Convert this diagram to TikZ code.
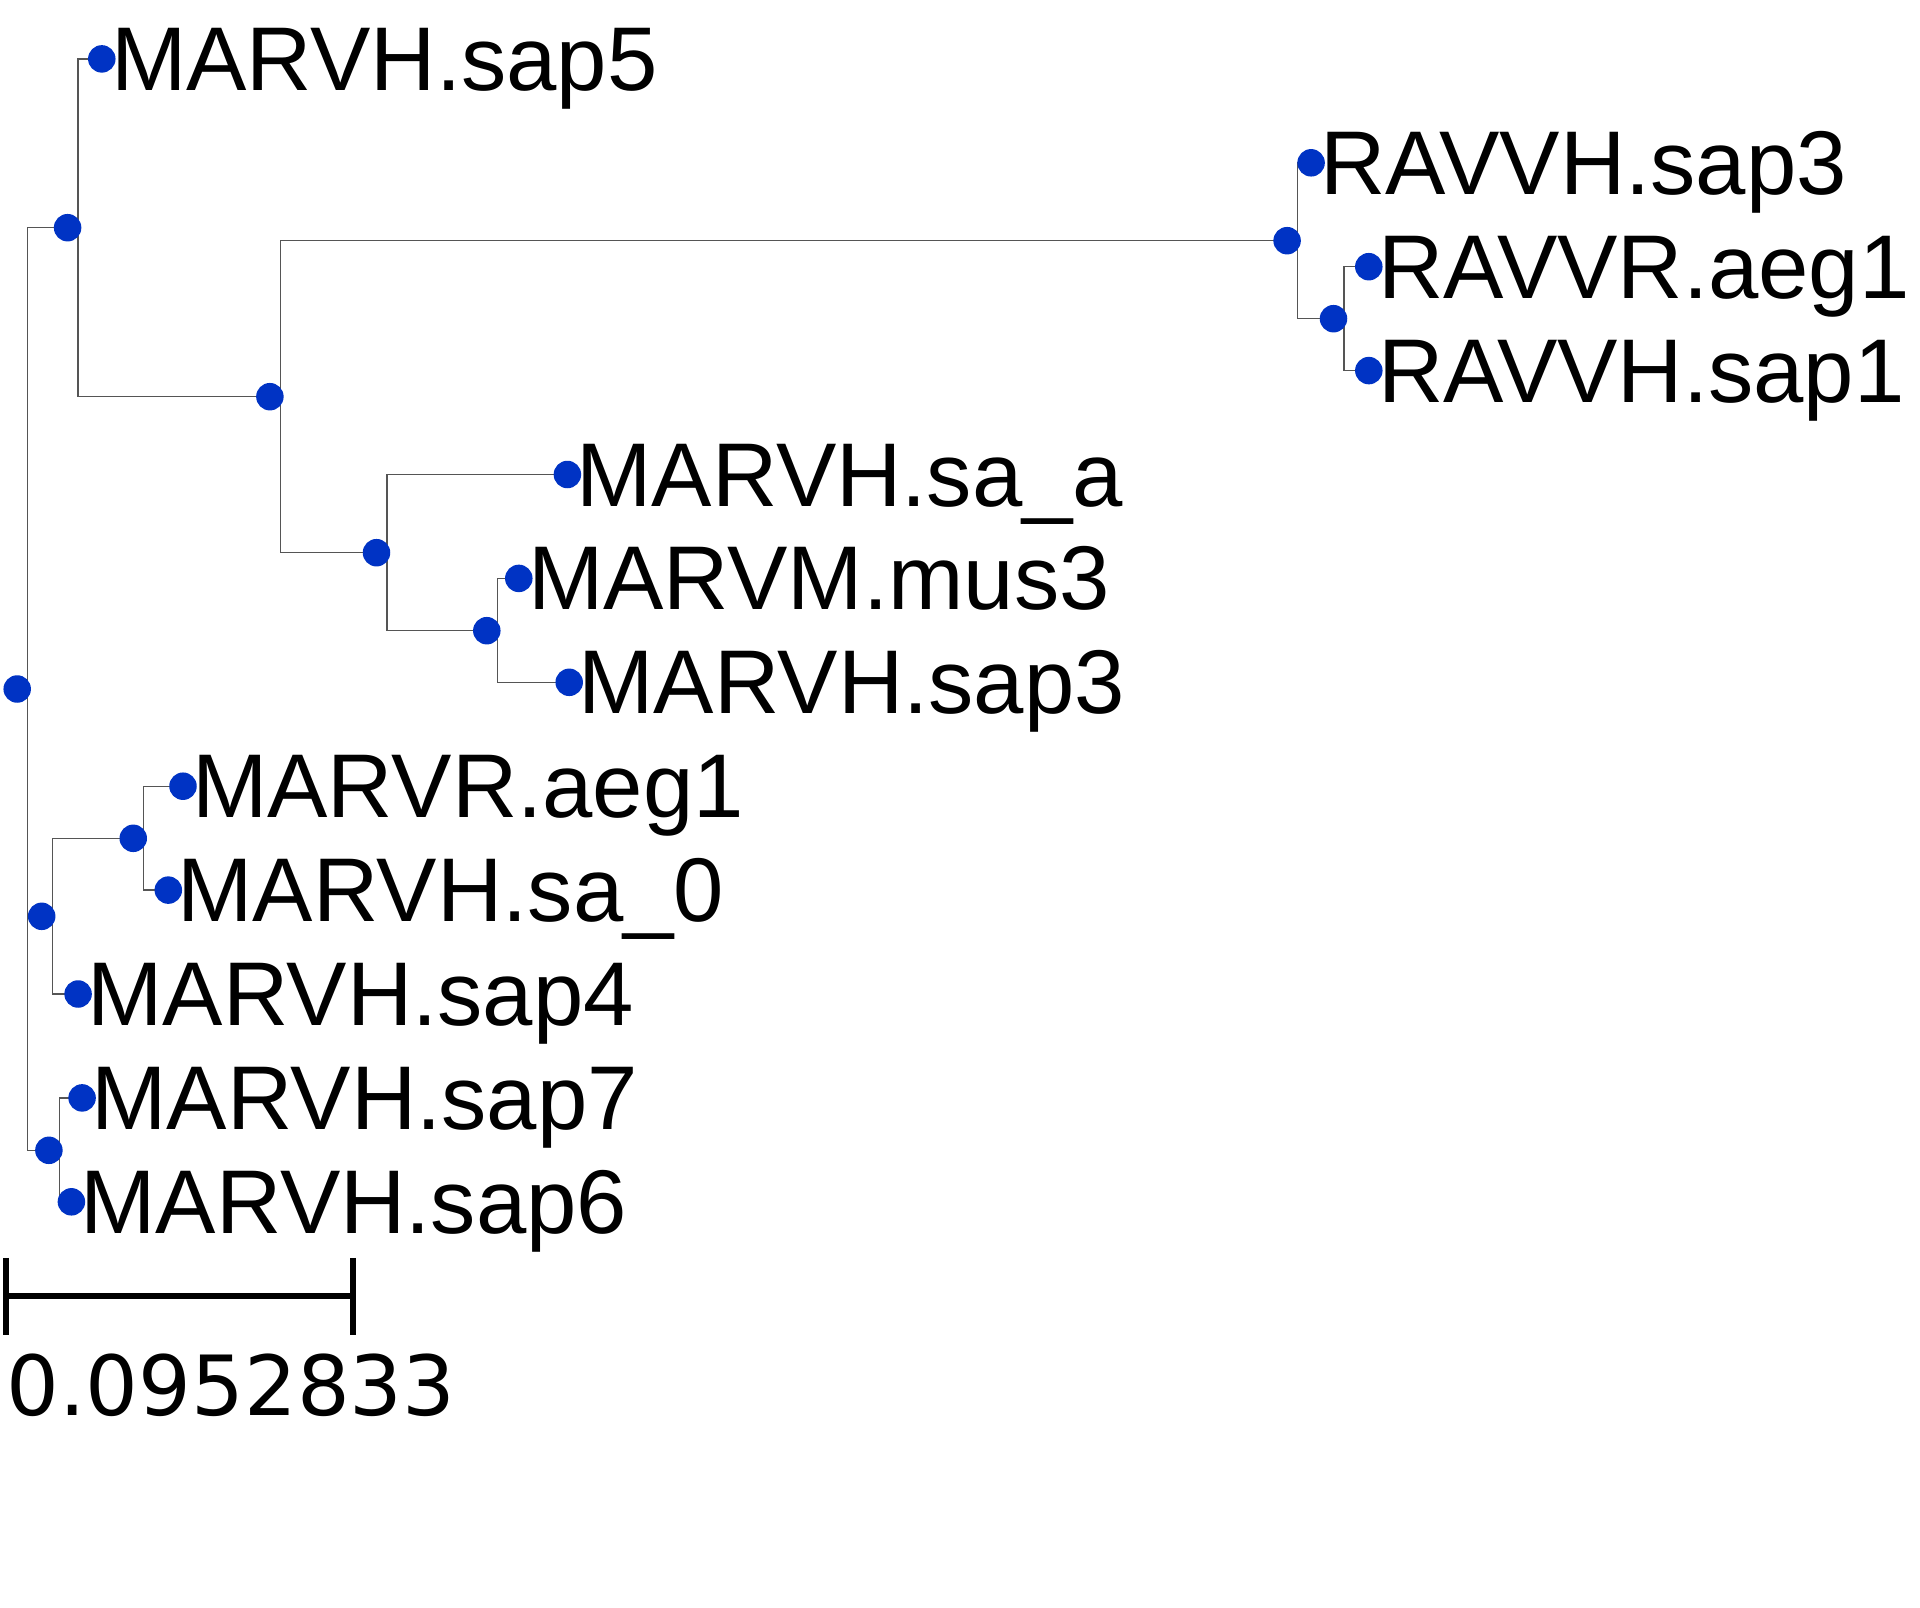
\documentclass[tikz,border=0pt]{standalone}
\usepackage{fontspec}
\setmainfont{Liberation Sans}
\newfontfamily\scalelabelfont{DejaVu Sans}
\usetikzlibrary{calc}
\definecolor{dotblue}{RGB}{0,51,196}
\definecolor{branchgray}{RGB}{85,85,85}
\begin{document}
\begin{tikzpicture}[x=1pt,y=-1pt,
  branchline/.style={draw=branchgray,line width=1.3pt},
  treedot/.style={circle,fill=dotblue,inner sep=0pt,minimum size=27.5pt,xshift=-10.5pt},
  leaflabel/.style={anchor=base west,inner sep=0pt,font=\fontsize{90.5}{100}\selectfont},
  scalebar/.style={draw=black,line width=6pt},
]
\useasboundingbox (0,0) rectangle (1920,1608);
% internal nodes (position of their vertical line)
\coordinate (R) at (27.7,689);
\coordinate (A) at (78.1,227.7);
\coordinate (B) at (280.4,396.7);
\coordinate (C) at (1297.6,240.7);
\coordinate (D) at (1344,318.7);
\coordinate (E) at (387,552.7);
\coordinate (F) at (497.3,630.7);
\coordinate (H) at (52.2,916.3);
\coordinate (G) at (143.75,838.3);
\coordinate (I) at (59.4,1150.3);
% leaves
\coordinate (l1) at (112.3,58.9);
\coordinate (l2) at (1321.6,162.8);
\coordinate (l3) at (1379.3,266.7);
\coordinate (l4) at (1379.3,370.6);
\coordinate (l5) at (577.9,474.5);
\coordinate (l6) at (529.3,578.4);
\coordinate (l7) at (579.7,682.3);
\coordinate (l8) at (193.5,786.2);
\coordinate (l9) at (178.8,890.1);
\coordinate (l10) at (88.6,994.0);
\coordinate (l11) at (92.6,1097.9);
\coordinate (l12) at (81.9,1201.8);
% branches
\draw[branchline] (R) |- (A);
\draw[branchline] (R) |- (H);
\draw[branchline] (R) |- (I);
\draw[branchline] (A) |- (l1);
\draw[branchline] (A) |- (B);
\draw[branchline] (B) |- (C);
\draw[branchline] (B) |- (E);
\draw[branchline] (C) |- (l2);
\draw[branchline] (C) |- (D);
\draw[branchline] (D) |- (l3);
\draw[branchline] (D) |- (l4);
\draw[branchline] (E) |- (l5);
\draw[branchline] (E) |- (F);
\draw[branchline] (F) |- (l6);
\draw[branchline] (F) |- (l7);
\draw[branchline] (H) |- (G);
\draw[branchline] (H) |- (l10);
\draw[branchline] (G) |- (l8);
\draw[branchline] (G) |- (l9);
\draw[branchline] (I) |- (l11);
\draw[branchline] (I) |- (l12);
% dots
\foreach \n in {R,A,B,C,D,E,F,G,H,I,l1,l2,l3,l4,l5,l6,l7,l8,l9,l10,l11,l12}
  \node[treedot] (dot\n) at (\n) {};
% labels
\node[leaflabel] (t1) at ($(l1)+(-1.5,31.5)$) {MARVH.sap5};
\node[leaflabel] (t2) at ($(l2)+(-1.5,31.5)$) {RAVVH.sap3};
\node[leaflabel] (t3) at ($(l3)+(-1.5,31.5)$) {RAVVR.aeg1};
\node[leaflabel] (t4) at ($(l4)+(-1.5,31.5)$) {RAVVH.sap1};
\node[leaflabel] (t5) at ($(l5)+(-1.5,31.5)$) {MARVH.sa\_a};
\node[leaflabel] (t6) at ($(l6)+(-1.5,31.5)$) {MARVM.mus3};
\node[leaflabel] (t7) at ($(l7)+(-1.5,31.5)$) {MARVH.sap3};
\node[leaflabel] (t8) at ($(l8)+(-1.5,31.5)$) {MARVR.aeg1};
\node[leaflabel] (t9) at ($(l9)+(-1.5,31.5)$) {MARVH.sa\_0};
\node[leaflabel] (t10) at ($(l10)+(-1.5,31.5)$) {MARVH.sap4};
\node[leaflabel] (t11) at ($(l11)+(-1.5,31.5)$) {MARVH.sap7};
\node[leaflabel] (t12) at ($(l12)+(-1.5,31.5)$) {MARVH.sap6};
% scale bar
\coordinate (sbL) at (6.3,1295.8);
\coordinate (sbR) at (352.7,1295.8);
\draw[scalebar] (sbL) -- (sbR);
\draw[scalebar] ($(sbL)+(0,-38)$) -- ($(sbL)+(0,38.8)$);
\draw[scalebar] ($(sbR)+(0,-38)$) -- ($(sbR)+(0,38.8)$);
\node[anchor=base west,inner sep=0pt,font=\scalelabelfont\fontsize{83}{96}\selectfont] (sblabel) at (6.5,1415) {0.0952833};
\end{tikzpicture}
\end{document}
